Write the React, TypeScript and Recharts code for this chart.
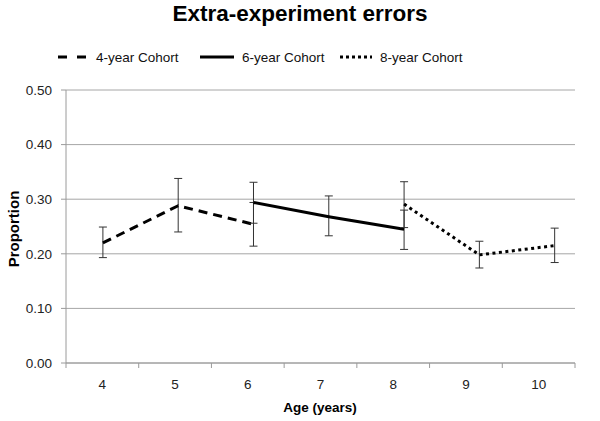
import React from "react";
import { LineChart, Line, XAxis, YAxis, CartesianGrid, ErrorBar } from "recharts";

const AGES = [4, 5, 6, 7, 8, 9, 10];

// cohort means (proportion of extra-experiment errors)
const AGES_4YR = [4, 5, 6];
const MEANS_4YR = [0.22, 0.288, 0.254];
const ERR_4YR: [number, number][] = [[0.027, 0.029], [0.048, 0.05], [0.04, 0.04]];

const AGES_6YR = [6, 7, 8];
const MEANS_6YR = [0.294, 0.268, 0.245];
const ERR_6YR: [number, number][] = [[0.038, 0.037], [0.035, 0.038], [0.037, 0.035]];

const AGES_8YR = [8, 9, 10];
const MEANS_8YR = [0.291, 0.198, 0.215];
const ERR_8YR: [number, number][] = [[0.043, 0.041], [0.024, 0.025], [0.031, 0.032]];

const Y_TICKS = [0, 0.1, 0.2, 0.3, 0.4, 0.5];

const build = (ages: number[], means: number[], errs: [number, number][]) =>
  ages.map((age, i) => ({ age, value: means[i], err: errs[i] }));

const data4 = build(AGES_4YR, MEANS_4YR, ERR_4YR);
const data6 = build(AGES_6YR, MEANS_6YR, ERR_6YR);
const data8 = build(AGES_8YR, MEANS_8YR, ERR_8YR);

const FONT = "'Liberation Sans', Arial, sans-serif";
const catTicks = [3.5, ...AGES.map((a) => [a, a + 0.5]).flat()];

function AgeTick(props: any) {
  const { x, y, payload } = props;
  const v = payload.value;
  if (!Number.isInteger(v)) {
    return <line x1={x} y1={y} x2={x} y2={y + 5} stroke="#9a9a9a" strokeWidth={1} />;
  }
  return (
    <text x={x} y={y + 26} textAnchor="middle" fontSize={13.5} fontFamily={FONT} fill="#222">
      {v}
    </text>
  );
}

function LegendItem({ dash, label, left, w }: { dash?: string; label: string; left: number; w: number }) {
  return (
    <div style={{ position: "absolute", left, top: 48, display: "flex", alignItems: "center" }}>
      <svg width={w} height={18}>
        <line x1={0} y1={9} x2={w} y2={9} stroke="#000" strokeWidth={3} strokeDasharray={dash} />
      </svg>
      <span style={{ marginLeft: 8, fontSize: 13.5, fontFamily: FONT, color: "#111" }}>{label}</span>
    </div>
  );
}

export default function App() {
  return (
    <div style={{ position: "absolute", left: 0, top: 0, width: 600, height: 421, background: "#fff" }}>
      <div
        style={{
          position: "absolute",
          top: 1,
          width: 600,
          textAlign: "center",
          fontFamily: FONT,
          fontWeight: "bold",
          fontSize: 22.5,
        }}
      >
        Extra-experiment errors
      </div>
      <LegendItem dash="9 10" label="4-year Cohort" left={58} w={30} />
      <LegendItem label="6-year Cohort" left={200} w={34} />
      <LegendItem dash="3 3" label="8-year Cohort" left={340} w={32} />

      <LineChart width={600} height={421} margin={{ top: 90, right: 25, bottom: 5, left: 0 }}>
        <CartesianGrid vertical={false} stroke="#a6a6a6" xAxisId="cat" />
        <XAxis
          xAxisId="cat"
          type="number"
          dataKey="age"
          domain={[3.5, 10.5]}
          ticks={catTicks}
          interval={0}
          tick={<AgeTick />}
          tickLine={false}
          tickSize={0}
          tickMargin={0}
          height={53}
          stroke="#9a9a9a"
          allowDataOverflow
        />
        <XAxis xAxisId="pts" type="number" dataKey="age" domain={[3.51, 10.27]} hide allowDataOverflow />
        <YAxis
          type="number"
          domain={[0, 0.5]}
          ticks={Y_TICKS}
          tickFormatter={(v: number) => v.toFixed(2)}
          width={66}
          tickSize={5}
          tickMargin={9}
          stroke="#9a9a9a"
          tick={{ fill: "#222", fontSize: 13.5, fontFamily: FONT }}
        />
        <Line
          xAxisId="pts"
          data={data4}
          dataKey="value"
          stroke="#000"
          strokeWidth={3}
          strokeDasharray="9 6"
          dot={false}
          isAnimationActive={false}
        >
          <ErrorBar dataKey="err" direction="y" width={4} stroke="#333" strokeWidth={1} />
        </Line>
        <Line
          xAxisId="pts"
          data={data6}
          dataKey="value"
          stroke="#000"
          strokeWidth={3}
          dot={false}
          isAnimationActive={false}
        >
          <ErrorBar dataKey="err" direction="y" width={4} stroke="#333" strokeWidth={1} />
        </Line>
        <Line
          xAxisId="pts"
          data={data8}
          dataKey="value"
          stroke="#000"
          strokeWidth={3}
          strokeDasharray="3 3.5"
          dot={false}
          isAnimationActive={false}
        >
          <ErrorBar dataKey="err" direction="y" width={4} stroke="#333" strokeWidth={1} />
        </Line>
      </LineChart>

      <div
        style={{
          position: "absolute",
          top: 400,
          left: 0,
          width: 640,
          textAlign: "center",
          fontFamily: FONT,
          fontWeight: "bold",
          fontSize: 13.5,
        }}
      >
        Age (years)
      </div>
      <div
        style={{
          position: "absolute",
          left: 13,
          top: 229,
          transform: "translate(-50%, -50%) rotate(-90deg)",
          fontFamily: FONT,
          fontWeight: "bold",
          fontSize: 15,
          whiteSpace: "nowrap",
        }}
      >
        Proportion
      </div>
    </div>
  );
}
